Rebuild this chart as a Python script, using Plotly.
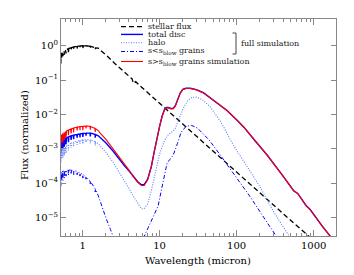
import plotly.graph_objects as go

# ---------------- data ----------------
wl_short = [0.500, 0.503, 0.507, 0.512, 0.517, 0.522, 0.527, 0.535, 0.542, 0.550,
            0.555, 0.562, 0.575, 0.580, 0.588, 0.600, 0.610, 0.620, 0.650, 0.656,
            0.662, 0.700, 0.710, 0.720, 0.760, 0.766, 0.772, 0.840, 0.850, 0.860,
            0.920, 0.926, 0.932, 1.000, 1.010, 1.020, 1.100, 1.110, 1.120, 1.250,
            1.260, 1.270, 1.450, 1.460, 1.470, 1.600, 1.700]

star_short = [0.55, 0.20, 0.57, 0.35, 0.60, 0.30, 0.62, 0.45, 0.65, 0.67,
              0.50, 0.69, 0.71, 0.55, 0.73, 0.75, 0.60, 0.78, 0.82, 0.60,
              0.83, 0.87, 0.75, 0.89, 0.92, 0.75, 0.93, 0.96, 0.80, 0.97,
              0.99, 0.85, 0.99, 1.00, 0.80, 1.00, 1.00, 0.88, 1.00, 0.97,
              0.82, 0.96, 0.88, 0.78, 0.87, 0.85, 0.76]
star_wl_long = [1.9, 2.2, 2.6, 3.0, 3.5, 4.0, 4.4, 4.5, 4.6, 4.7, 4.9, 5.5, 7.0,
                10, 15, 20, 30, 50, 100, 200, 400, 700, 950]
star_long = [0.60, 0.45, 0.31, 0.23, 0.17, 0.13, 0.108, 0.09, 0.095, 0.085, 0.09,
             0.07, 0.043, 0.021, 9.3e-3, 5.3e-3, 2.35e-3, 8.5e-4, 2.1e-4,
             5.3e-5, 1.3e-5, 4.3e-6, 2.35e-6]

disc_short = [1.5e-3, 5e-4, 1.55e-3, 8e-4, 1.6e-3, 7.5e-4, 1.65e-3, 1.0e-3, 1.75e-3, 1.8e-3,
              1.0e-3, 1.85e-3, 1.9e-3, 1.15e-3, 1.95e-3, 2.0e-3, 1.35e-3, 2.1e-3, 2.2e-3, 1.55e-3,
              2.25e-3, 2.35e-3, 1.8e-3, 2.4e-3, 2.5e-3, 1.9e-3, 2.5e-3, 2.6e-3, 2.1e-3, 2.65e-3,
              2.7e-3, 2.15e-3, 2.7e-3, 2.8e-3, 2.2e-3, 2.8e-3, 2.85e-3, 2.4e-3, 2.85e-3, 2.85e-3,
              2.3e-3, 2.85e-3, 2.65e-3, 2.1e-3, 2.6e-3, 2.4e-3, 2.1e-3]
disc_wl_long = [2.0, 2.5, 3.0, 3.5, 4.0, 4.6, 5.2, 5.8, 6.3, 7.0, 7.8, 8.5, 9.2, 10,
                10.8, 11.6, 12.3, 13, 14, 15, 16, 17, 18.5, 20, 22, 25, 30, 37, 45,
                60, 75, 100, 125, 167, 250, 410, 550, 620, 700, 800, 900, 1000,
                1300, 1650]
disc_long = [1.5e-3, 8.5e-4, 4.8e-4, 3.2e-4, 2.3e-4, 1.5e-4, 1.1e-4, 9e-5, 9e-5,
             1.3e-4, 3e-4, 8e-4, 2e-3, 4.5e-3, 9e-3, 1.4e-2, 1.6e-2, 1.6e-2,
             1.5e-2, 1.5e-2, 1.8e-2, 2.6e-2, 4.2e-2, 5.4e-2, 5.8e-2, 5.8e-2,
             5.3e-2, 4.3e-2, 3.1e-2, 1.9e-2, 1.3e-2, 7e-3, 4.2e-3, 1.9e-3,
             6.5e-4, 1.5e-4, 6e-5, 5e-5, 3.5e-5, 2.2e-5, 1.7e-5, 1.2e-5,
             5.5e-6, 2.8e-6]

big_short = [2.3e-3, 8e-4, 2.4e-3, 1.2e-3, 2.5e-3, 1.1e-3, 2.6e-3, 1.6e-3, 2.7e-3, 2.8e-3,
             1.5e-3, 2.9e-3, 3.0e-3, 1.8e-3, 3.1e-3, 3.2e-3, 2.1e-3, 3.35e-3, 3.5e-3, 2.5e-3,
             3.55e-3, 3.75e-3, 2.8e-3, 3.85e-3, 4.0e-3, 3.0e-3, 4.05e-3, 4.25e-3, 3.4e-3, 4.3e-3,
             4.4e-3, 3.5e-3, 4.45e-3, 4.5e-3, 3.5e-3, 4.55e-3, 4.6e-3, 3.9e-3, 4.6e-3, 4.5e-3,
             3.6e-3, 4.45e-3, 3.9e-3, 3.1e-3, 3.85e-3, 3.4e-3, 2.8e-3]
big_long = [1.9e-3, 1.0e-3, 5.5e-4, 3.5e-4, 2.4e-4, 1.5e-4, 1.05e-4, 8.5e-5, 8.5e-5,
            1.25e-4, 3e-4, 8e-4, 2e-3, 4.5e-3, 9e-3, 1.35e-2, 1.55e-2, 1.55e-2,
            1.45e-2, 1.45e-2, 1.75e-2, 2.5e-2, 4.1e-2, 5.3e-2, 5.7e-2, 5.7e-2,
            5.2e-2, 4.25e-2, 3.05e-2, 1.9e-2, 1.3e-2, 7e-3, 4.2e-3, 1.9e-3,
            6.5e-4, 1.5e-4, 6e-5, 5e-5, 3.5e-5, 2.2e-5, 1.7e-5, 1.2e-5,
            5.5e-6, 2.8e-6]

halo_short = [8e-4, 2.8e-4, 8.3e-4, 4.3e-4, 8.7e-4, 4e-4, 9e-4, 5.5e-4, 9.5e-4, 1.0e-3,
              5.5e-4, 1.03e-3, 1.07e-3, 6.5e-4, 1.1e-3, 1.15e-3, 7.5e-4, 1.2e-3, 1.3e-3, 9e-4,
              1.33e-3, 1.42e-3, 1.05e-3, 1.47e-3, 1.55e-3, 1.15e-3, 1.57e-3, 1.65e-3, 1.3e-3, 1.68e-3,
              1.75e-3, 1.4e-3, 1.76e-3, 1.8e-3, 1.4e-3, 1.82e-3, 1.85e-3, 1.55e-3, 1.85e-3, 1.8e-3,
              1.45e-3, 1.78e-3, 1.6e-3, 1.25e-3, 1.57e-3, 1.4e-3, 1.2e-3]
halo_wl_long = [2.0, 2.5, 3.0, 3.5, 4.0, 4.6, 5.2, 5.8, 6.3, 7.0, 7.8, 8.5, 9.2, 10,
                11, 12, 13, 14, 15, 16, 17, 18.5, 20, 23, 26, 30, 36, 45, 52, 61,
                71, 82, 100, 150, 200, 300, 400, 500]
halo_long = [8e-4, 4e-4, 2.1e-4, 1.2e-4, 7e-5, 4e-5, 2.5e-5, 1.8e-5, 1.8e-5, 2.5e-5,
             6e-5, 1.5e-4, 3.5e-4, 7e-4, 1.3e-3, 2e-3, 2.6e-3, 3e-3, 3.3e-3, 4e-3,
             5.5e-3, 9e-3, 1.4e-2, 2.5e-2, 3.1e-2, 3.2e-2, 2.7e-2, 1.7e-2, 1.1e-2,
             6.5e-3, 3.6e-3, 1.9e-3, 9e-4, 2.3e-4, 8e-5, 1.5e-5, 5.5e-6, 2.5e-6]

small_short = [2.0e-4, 5e-5, 2.05e-4, 9e-5, 2.1e-4, 8e-5, 2.15e-4, 1.2e-4, 2.2e-4, 2.25e-4,
               1.2e-4, 2.28e-4, 2.3e-4, 1.4e-4, 2.32e-4, 2.35e-4, 1.6e-4, 2.38e-4, 2.4e-4, 1.7e-4,
               2.4e-4, 2.4e-4, 1.8e-4, 2.38e-4, 2.33e-4, 1.75e-4, 2.3e-4, 2.2e-4, 1.75e-4, 2.15e-4,
               2.0e-4, 1.6e-4, 1.97e-4, 1.8e-4, 1.4e-4, 1.75e-4, 1.55e-4, 1.3e-4, 1.5e-4, 1.15e-4,
               9e-5, 1.1e-4, 7e-5, 5.5e-5, 6.6e-5, 4.3e-5, 2.8e-5]
small_wl_long = [2.0, 2.3, 2.6, 4.0, 6.3, 7.5, 8.5, 9.6, 10.5, 11.5, 12.5, 13.5, 15,
                 17, 19, 22, 26, 31, 38, 44, 60, 87, 150, 250, 340]
small_long = [1.0e-5, 4.5e-6, 2.2e-6, 3e-7, 2.8e-6, 6e-6, 1.1e-5, 2.2e-5, 6e-5, 1.8e-4,
              3.8e-4, 4.8e-4, 6.5e-4, 1.4e-3, 3e-3, 4.5e-3, 4.8e-3, 4e-3, 2.6e-3,
              1.8e-3, 7e-4, 2.2e-4, 4e-5, 7e-6, 2.5e-6]

series_names = ["stellar flux", "total disc", "halo",
                "s&lt;s<sub>blow</sub> grains", "s&gt;s<sub>blow</sub> grains simulation"]
y_tickvals = [1, 0.1, 0.01, 1e-3, 1e-4, 1e-5]
y_ticktext = ["10<sup>0</sup>", "10<sup>−1</sup>", "10<sup>−2</sup>",
              "10<sup>−3</sup>", "10<sup>−4</sup>", "10<sup>−5</sup>"]
x_tickvals = [1, 10, 100, 1000]
x_ticktext = ["1", "10", "100", "1000"]
x_minor = [0.6, 0.7, 0.8, 0.9, 2, 3, 4, 5, 6, 7, 8, 9, 20, 30, 40, 50, 60, 70, 80, 90,
           200, 300, 400, 500, 600, 700, 800, 900]

# ---------------- styles ----------------
BLUE = "#0000ff"
HALO = "#5b7bff"
RED = "#ff0000"
FONT = "DejaVu Serif"
STAR_LINE = dict(color="black", width=1.3, dash="5px,3px")
DISC_LINE = dict(color=BLUE, width=1.4)
HALO_LINE = dict(color=HALO, width=1.1, dash="1px,1.5px")
SMALL_LINE = dict(color=BLUE, width=1.0, dash="4px,2px,1px,2px")
BIG_LINE = dict(color=RED, width=1.1)

fig = go.Figure()
fig.add_trace(go.Scatter(x=wl_short + star_wl_long, y=star_short + star_long, mode="lines", line=STAR_LINE))
fig.add_trace(go.Scatter(x=wl_short + disc_wl_long, y=disc_short + disc_long, mode="lines", line=DISC_LINE))
fig.add_trace(go.Scatter(x=wl_short + halo_wl_long, y=halo_short + halo_long, mode="lines", line=HALO_LINE))
fig.add_trace(go.Scatter(x=wl_short + small_wl_long, y=small_short + small_long, mode="lines", line=SMALL_LINE))
fig.add_trace(go.Scatter(x=wl_short + disc_wl_long, y=big_short + big_long, mode="lines", line=BIG_LINE))

# The page body has an 8 px margin: figure drawn 8 px smaller, coordinates given in page pixels
OFF = 8
W, H = 354 - OFF, 275 - OFF
L, R, T, B = 61 - OFF, 336 - OFF, 19 - OFF, 236 - OFF
def px(x): return (x - OFF - L) / (R - L)
def py(y): return (B - (y - OFF)) / (B - T)

leg_rows = [26.7, 34.4, 42.7, 51.5, 61.5]
leg_styles = [STAR_LINE, DISC_LINE, HALO_LINE, SMALL_LINE, BIG_LINE]
shapes = []
annotations = []
for yrow, st, name in zip(leg_rows, leg_styles, series_names):
    shapes.append(dict(type="line", xref="paper", yref="paper",
                       x0=px(121), x1=px(143), y0=py(yrow), y1=py(yrow), line=st))
    annotations.append(dict(xref="paper", yref="paper", x=px(146), y=py(yrow),
                            text=name, showarrow=False, xanchor="left", yanchor="middle",
                            font=dict(family=FONT, size=8, color="#222")))
bc = "#444"
shapes += [
    dict(type="line", xref="paper", yref="paper", x0=px(236), x1=px(236), y0=py(33), y1=py(54), line=dict(color=bc, width=1)),
    dict(type="line", xref="paper", yref="paper", x0=px(232.5), x1=px(236), y0=py(33), y1=py(33), line=dict(color=bc, width=1)),
    dict(type="line", xref="paper", yref="paper", x0=px(232.5), x1=px(236), y0=py(54), y1=py(54), line=dict(color=bc, width=1)),
]
annotations.append(dict(xref="paper", yref="paper", x=px(239), y=py(44), text="full simulation",
                        showarrow=False, xanchor="left", yanchor="middle",
                        font=dict(family=FONT, size=8, color="#222")))
annotations.append(dict(xref="paper", yref="paper", x=px(198), y=py(260), text="Wavelength (micron)",
                        showarrow=False, xanchor="center", yanchor="middle",
                        font=dict(family=FONT, size=10, color="black")))
annotations.append(dict(xref="paper", yref="paper", x=px(24), y=py(135), text="Flux (normalized)",
                        showarrow=False, xanchor="center", yanchor="middle", textangle=-90,
                        font=dict(family=FONT, size=10, color="black")))

AX = "#888888"
fig.update_layout(
    width=W, height=H,
    margin=dict(l=L, r=W - R, t=T, b=H - B),
    paper_bgcolor="white", plot_bgcolor="white",
    showlegend=False,
    font=dict(family=FONT, size=10, color="black"),
    shapes=shapes, annotations=annotations,
    xaxis=dict(type="log", range=[-0.28, 3.29], showgrid=False, zeroline=False,
               showline=True, linecolor=AX, linewidth=1, mirror="allticks",
               ticks="inside", ticklen=6, tickcolor=AX, tickwidth=1,
               tickvals=x_tickvals, ticktext=x_ticktext,
               tickfont=dict(family=FONT, size=10, color="black"),
               minor=dict(tickvals=x_minor, ticks="inside", ticklen=3, tickcolor=AX, showgrid=False)),
    yaxis=dict(type="log", range=[-5.54, 0.78], showgrid=False, zeroline=False,
               showline=True, linecolor=AX, linewidth=1, mirror="allticks",
               ticks="inside", ticklen=5, tickcolor=AX, tickwidth=1,
               tickvals=y_tickvals, ticktext=y_ticktext,
               tickfont=dict(family=FONT, size=10, color="black")),
)

fig.write_html("out.html")
